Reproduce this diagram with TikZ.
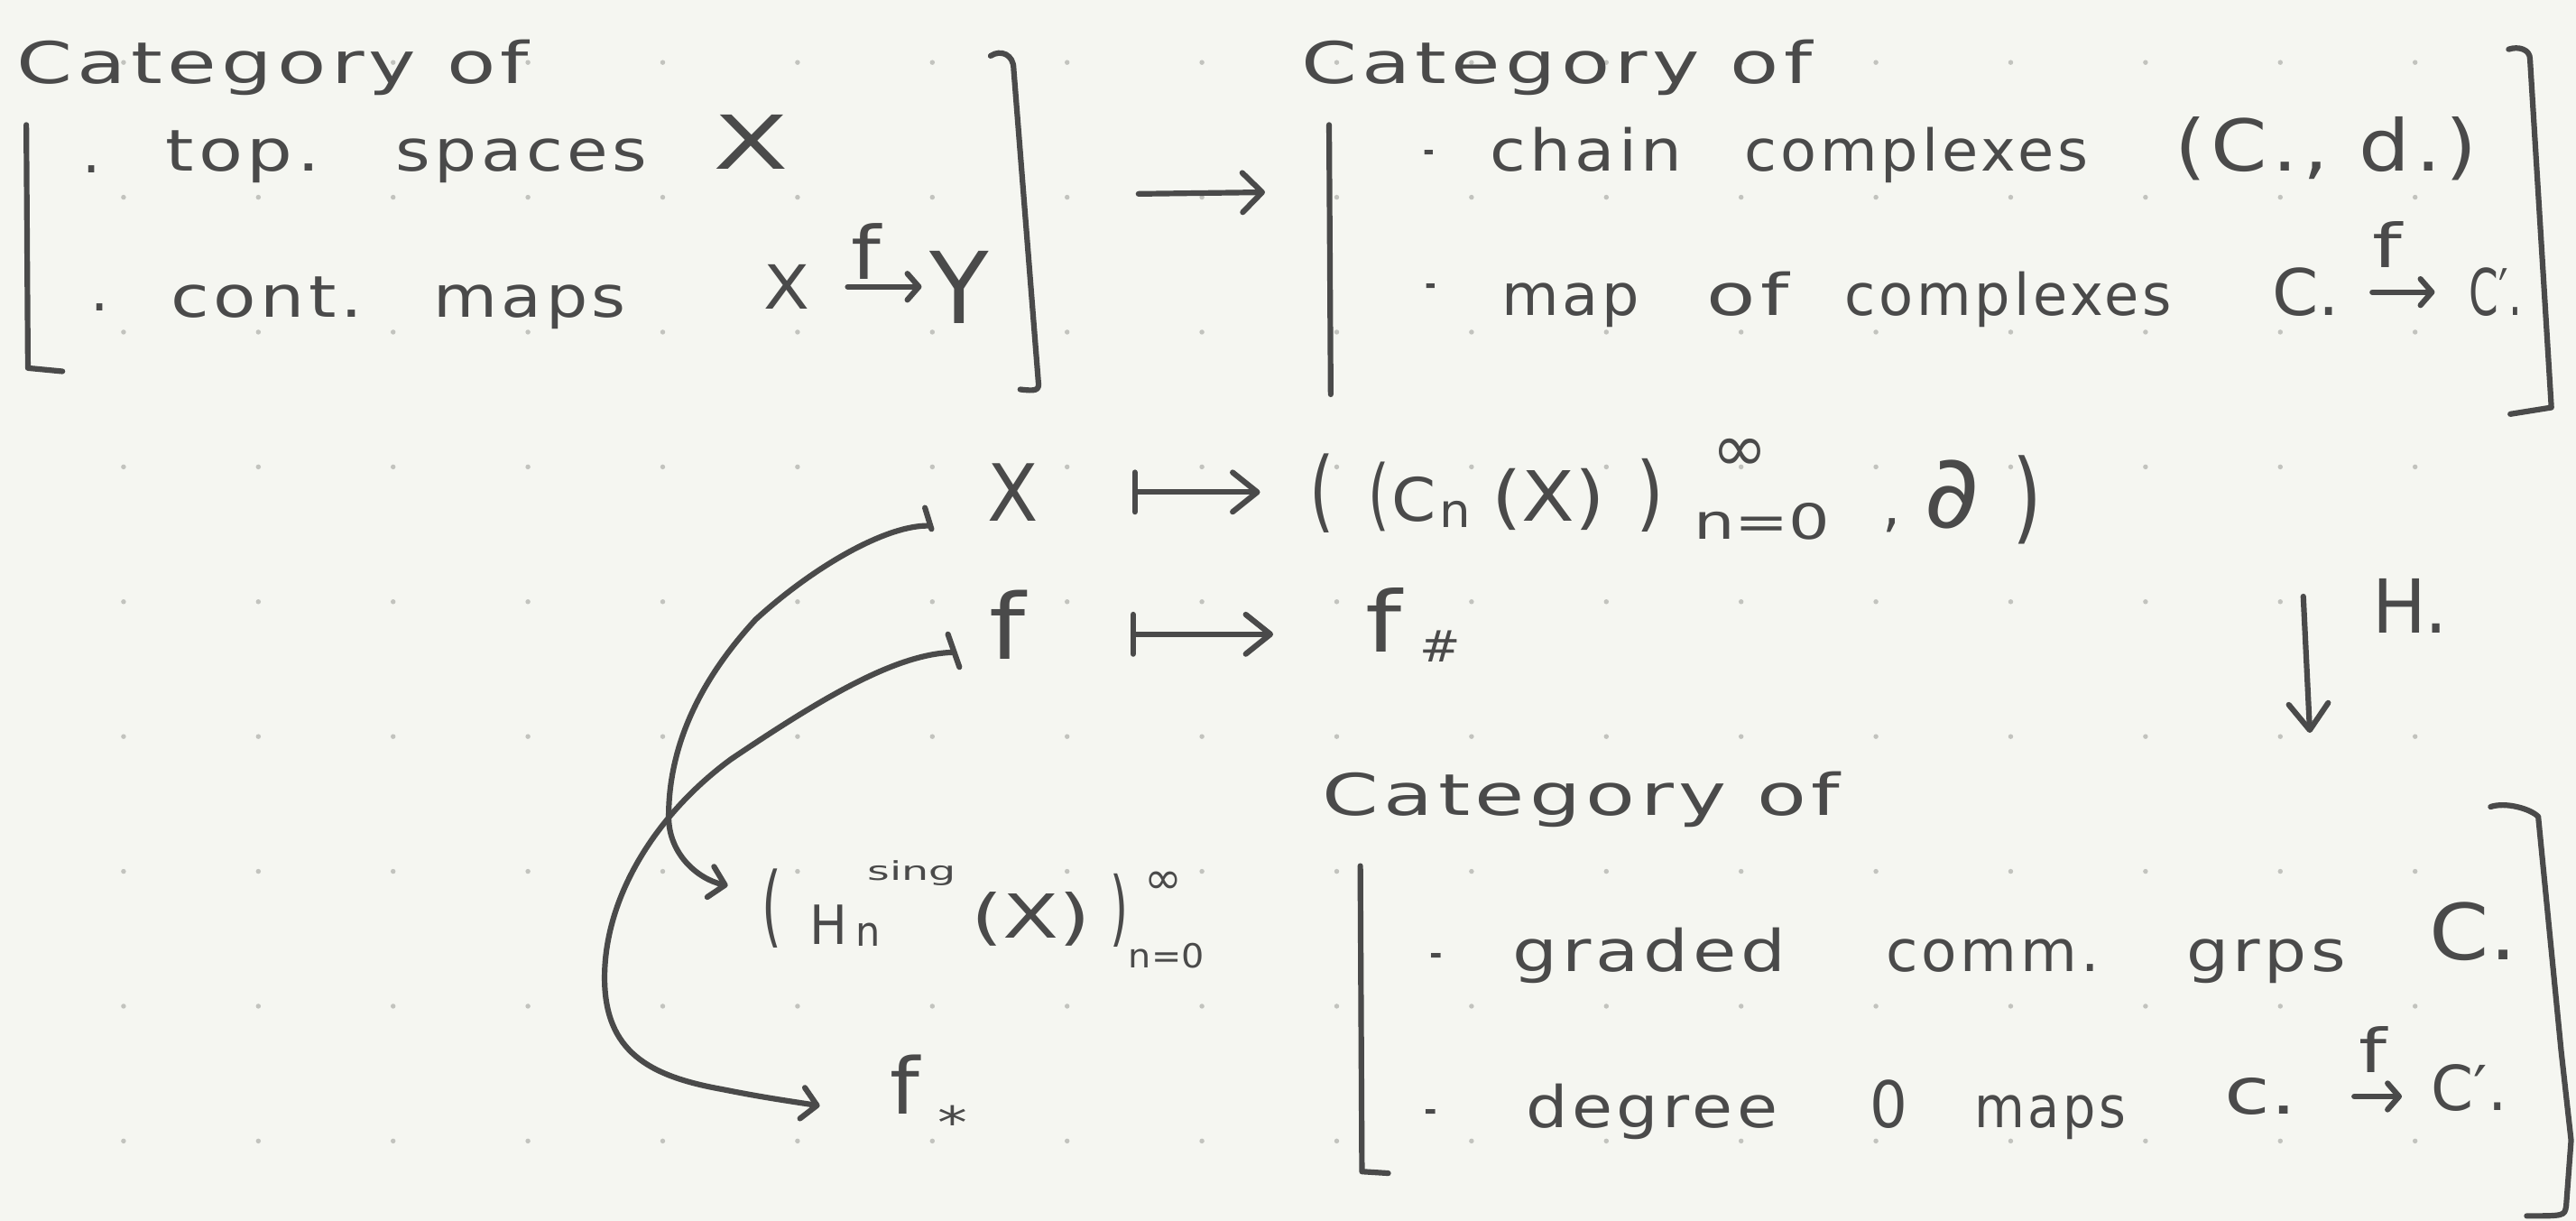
\documentclass[tikz,border=0pt]{standalone}
\usepackage{fontspec}
\setmainfont{DejaVu Sans}[LetterSpace=6]
\newfontfamily\symf{DejaVu Sans}
\usetikzlibrary{arrows.meta}
\definecolor{ink}{HTML}{4A4A4A}
\definecolor{paper}{HTML}{F5F6F1}
\definecolor{gridc}{HTML}{C2C3BE}
\newcommand\hw[2]{\resizebox{#1pt}{\height}{#2}}
\newcommand\hwh[3]{\resizebox{#1pt}{#2pt}{\symf #3}}
\begin{document}
\begin{tikzpicture}[x=1pt,y=-1pt,
  txt/.style={inner sep=0pt, outer sep=0pt, text=ink, font=\fontsize{35}{38}\selectfont, anchor=base west},
  pen/.style={draw=ink, line width=3.4pt, line cap=round, line join=round},
  barb/.style={-{Straight Barb[length=12pt,width=24pt,round]}},
  sbarb/.style={-{Straight Barb[length=7pt,width=16pt,round]}},
  cbarb/.style={-{Straight Barb[length=9pt,width=19pt,round]}},
  mapsto/.style={{Bar[width=24pt,round]}-{Straight Barb[length=15pt,width=24pt,round]}}]
\useasboundingbox (0,0) rectangle (1568,743);
\fill[paper] (0,0) rectangle (1568,743);
\foreach \i in {0,...,17}
  \foreach \j in {0,...,8}
    \fill[gridc] (75.2+82.05*\i, 38+82.05*\j) circle (1.5);

% ---------- top-left block ----------
\node[txt] (catA) at (10,51) {\hw{312}{Category of}};
\draw[pen] (16,76) -- (17,224) -- (38,226);
\node[txt] (bA1) at (50,105) {\symf .};
\node[txt] (topA) at (101,104) {\hw{94}{top.}};
\node[txt] (spacesA) at (241,104) {\hw{153}{spaces}};
\node[txt] (XA) at (434,103) {\hwh{46}{33}{X}};
\node[txt] (bA2) at (55,189) {\symf .};
\node[txt] (contA) at (104,193) {\hw{117}{cont.}};
\node[txt] (mapsA) at (264,193) {\hw{117}{maps}};
\node[txt] (XB) at (465,188) {\hwh{28}{27}{X}};
\node[txt] (YA) at (566,197) {\hwh{36}{44}{Y}};
\node[txt] (fA) at (518,170) {\hwh{18}{34}{f}};
\draw[pen, sbarb, shorten <=23pt, shorten >=5pt] (XB.east) -- (XB.east -| YA.west);
\draw[pen] (603,34) .. controls (609,30) and (617,33) .. (617,42) -- (632,232) .. controls (633,238) and (630,238) .. (621,237);

% arrow between the two categories
\coordinate (ga) at (693,118);
\coordinate (gb) at (770,117);
\draw[pen, barb] (ga) -- (gb);

% ---------- top-right block ----------
\node[txt] (catB) at (792,51) {\hw{311}{Category of}};
\draw[pen] (809,76) -- (810,240);
\node[txt, anchor=center] (dB1) at (870,97) {\hw{7}{\symf -}};
\node[txt] (chainB) at (907,104) {\hw{117}{chain}};
\node[txt] (cxB1) at (1062,104) {\hw{209}{complexes}};
\node[txt] (cdB) at (1324,104) {\resizebox{184pt}{33pt}{(C., d.)}};
\node[txt, anchor=center] (dB2) at (871,178) {\hw{7}{\symf -}};
\node[txt] (mapB) at (914,192) {\hw{84}{map}};
\node[txt] (ofB) at (1039,192) {\hw{50}{of}};
\node[txt] (cxB2) at (1123,192) {\hw{199}{complexes}};
\node[txt] (CB1) at (1383,192) {\hwh{41}{29}{C.}};
\node[txt] (CB2) at (1503,192) {\hwh{32}{29}{C′.}};
\node[txt] (fB) at (1444,163) {\hwh{18}{28}{f}};
\draw[pen, sbarb, shorten <=20pt, shorten >=21pt] (CB1.east) -- (CB1.east -| CB2.west);
\draw[pen] (1527,30) .. controls (1533,28) and (1540,30) .. (1540,36) -- (1553,248) -- (1528,252);

% ---------- middle: X and f ----------
\node[txt] (XC) at (601,317) {\hwh{31}{35}{X}};
\node[txt] (tp1) at (797,317) {\hwh{15}{41}{(}};
\node[txt] (tp2) at (833,317) {\hwh{13}{36}{(}};
\node[txt] (tC) at (847,317) {\hwh{27}{27}{C}};
\node[txt] (tn) at (876,321) {\hwh{19}{16}{n}};
\node[txt] (tX) at (908,317) {\hwh{69}{32}{(X)}};
\node[txt] (tp3) at (996,317) {\hwh{17}{38}{)}};
\node[txt, anchor=center] (tinf) at (1059,277) {\resizebox{34pt}{!}{\symf ∞}};
\node[txt] (tn0) at (1031,328) {\hwh{83}{22}{n=0}};
\node[txt] (tcom) at (1146,320) {\symf ,};
\node[txt] (tdel) at (1171,321) {\hwh{34}{41}{∂}};
\node[txt] (tp4) at (1225,323) {\hwh{18}{46}{)}};
\draw[pen, mapsto, shorten <=57pt, shorten >=30pt] (XC.east) -- (XC.east -| tp1.west);

\node[txt] (fC) at (602,401) {\hwh{22}{42}{f}};
\node[txt] (fD) at (831,397) {\hwh{22}{39}{f}};
\node[txt] (shD) at (864,403) {\hwh{25}{19}{\#}};
\draw[pen, mapsto, shorten <=64pt, shorten >=56pt] ([yshift=-6pt]fC.east) -- ([yshift=-6pt]fC.east -| fD.west);

% ---------- homology side ----------
\node[txt] (Hs) at (464,570) {\hwh{12}{41}{(}};
\node[txt] (HH) at (493,575) {\hwh{23}{24}{H}};
\node[txt] (Hn) at (521,576) {\hwh{15}{14}{n}};
\node[txt] (Hsing) at (528,536) {\hwh{54}{12}{sing}};
\node[txt] (HX) at (591,571) {\hwh{73}{28}{(X)}};
\node[txt] (Hp) at (676,570) {\hwh{11}{38}{)}};
\node[txt, anchor=center] (Hinf) at (708,537) {\resizebox{23pt}{!}{\symf ∞}};
\node[txt] (Hn0) at (687,589) {\hwh{46}{15}{n=0}};

\node[txt] (fst) at (542,678) {\hwh{18}{36}{f}};
\node[txt, anchor=center] (star) at (580,683) {\resizebox{18pt}{20pt}{\symf *}};

\coordinate (a1s) at ([shift={(-35,3)}]XC.base west);
\coordinate (a1e) at ([shift={(-21,-31)}]Hs.base west);
\draw[pen] (563,309) -- (567,322);
\draw[pen, cbarb] (a1s) .. controls (540,319) and (495,345) .. (460,377)
  .. controls (425,415) and (407,455) .. (407,497)
  .. controls (407,520) and (425,535) .. (a1e);

\coordinate (a2s) at ([shift={(-22,-4)}]fC.base west);
\coordinate (a2e) at ([shift={(-43,-5)}]fst.base west);
\draw[pen] (577,386) -- (584,406);
\draw[pen, cbarb] (a2s) .. controls (545,398) and (500,425) .. (445,462)
  .. controls (400,495) and (368,545) .. (368,595)
  .. controls (368,640) and (395,655) .. (440,663)
  .. controls (465,668) and (480,670) .. (a2e);

% H. arrow
\coordinate (hs) at (1402,363);
\coordinate (he) at (1406,446);
\draw[pen, -{Straight Barb[length=16pt,width=24pt,round]}] (hs) -- (he);
\node[txt] (Hdot) at (1444,385) {\hwh{46}{33}{H.}};

% ---------- bottom block ----------
\node[txt] (catC) at (805,496) {\hw{315}{Category of}};
\draw[pen] (828,527) -- (829,713) -- (845,714);
\node[txt, anchor=center] (dC1) at (874,586) {\hw{8}{\symf -}};
\node[txt] (grC) at (921,591) {\hw{166}{graded}};
\node[txt] (cmC) at (1148,591) {\hw{130}{comm.}};
\node[txt] (gpC) at (1331,591) {\hw{97}{grps}};
\node[txt] (CC1) at (1479,584) {\hwh{53}{35}{C.}};
\node[txt, anchor=center] (dC2) at (871,681) {\hw{8}{\symf -}};
\node[txt] (dgC) at (929,686) {\hw{153}{degree}};
\node[txt] (zC) at (1138,686) {\hwh{23}{29}{0}};
\node[txt] (mpC) at (1202,686) {\hw{92}{maps}};
\node[txt] (cC) at (1354,678) {\hwh{44}{22}{c.}};
\node[txt] (CE) at (1480,676) {\hwh{46}{28}{C′.}};
\node[txt] (fE) at (1436,653) {\hwh{17}{28}{f}};
\draw[pen, sbarb, shorten <=35pt, shorten >=18pt] (cC.east) -- (cC.east -| CE.west);
\draw[pen] (1516,491) .. controls (1525,488) and (1540,492) .. (1545,497)
  -- (1550,548) -- (1559,640) -- (1565,694) -- (1562,734)
  .. controls (1561,740) .. (1538,740);
\end{tikzpicture}
\end{document}
